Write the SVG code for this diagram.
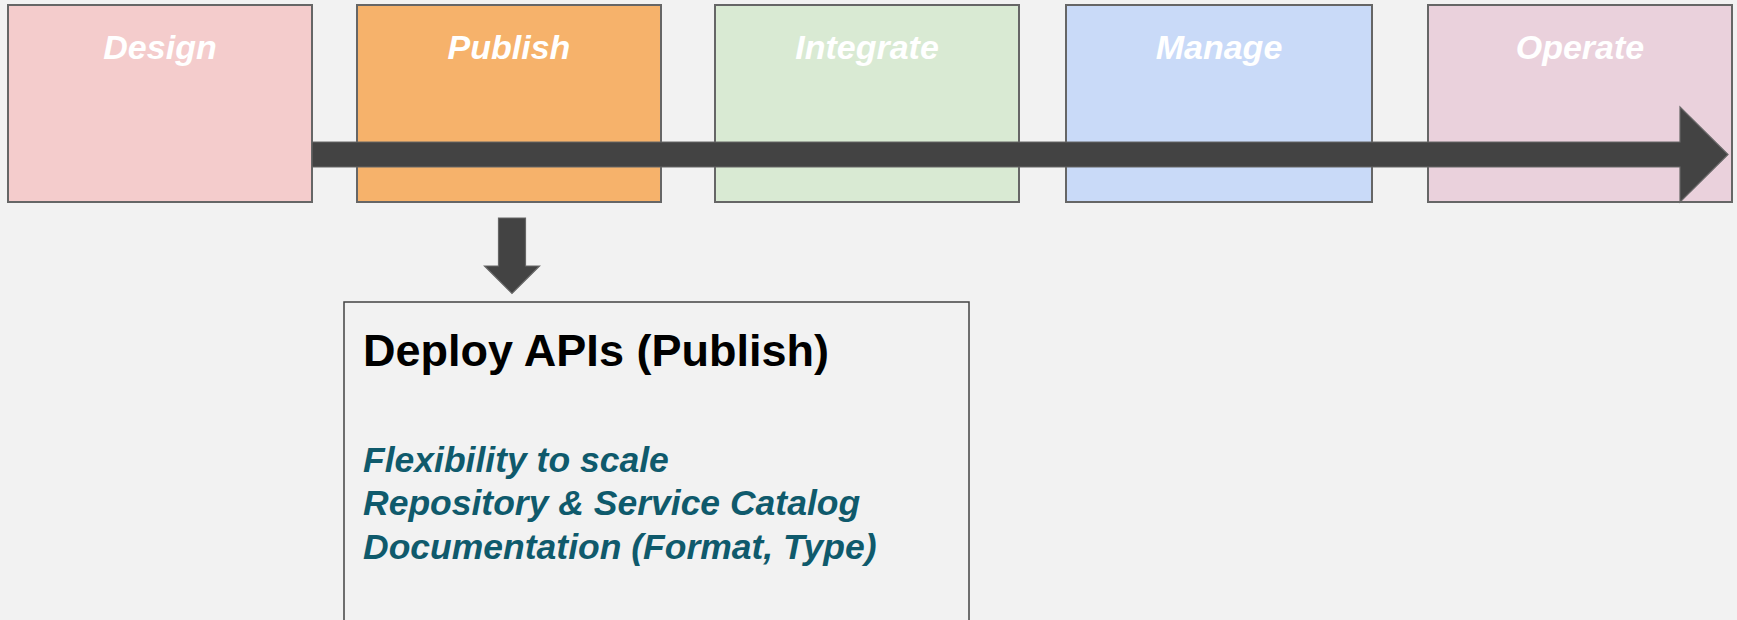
<svg xmlns="http://www.w3.org/2000/svg" width="1737" height="620" viewBox="0 0 1737 620">
<style>
.stage{stroke:#666666;stroke-width:2}
.stitle{font-family:"Liberation Sans",Arial,sans-serif;font-weight:bold;font-style:italic;font-size:34px;fill:#ffffff;text-anchor:middle}
.arrow{fill:#434343;stroke:#666666;stroke-width:1.2}
.htitle{font-family:"Liberation Sans",Arial,sans-serif;font-weight:bold;font-size:45px;fill:#000000}
.item{font-family:"Liberation Sans",Arial,sans-serif;font-weight:bold;font-style:italic;font-size:35.5px;fill:#0f5a6c}
</style>
<rect x="0" y="0" width="1737" height="620" fill="#f2f2f2"/>
<g id="design">
<rect class="stage" x="8" y="5" width="304" height="197" fill="#f4cccc"/>
<text class="stitle" x="160" y="59">Design</text>
</g>
<g id="publish">
<rect class="stage" x="357" y="5" width="304" height="197" fill="#f6b26b"/>
<text class="stitle" x="509" y="59">Publish</text>
</g>
<g id="integrate">
<rect class="stage" x="715" y="5" width="304" height="197" fill="#d9ead3"/>
<text class="stitle" x="867" y="59">Integrate</text>
</g>
<g id="manage">
<rect class="stage" x="1066" y="5" width="306" height="197" fill="#c9daf8"/>
<text class="stitle" x="1219" y="59">Manage</text>
</g>
<g id="operate">
<rect class="stage" x="1428" y="5" width="304" height="197" fill="#ead1dc"/>
<text class="stitle" x="1580" y="59">Operate</text>
</g>
<g id="connectors">
<path class="arrow" d="M312,142 L1680,142 L1680,107 L1728,154.5 L1680,202 L1680,167 L312,167 Z"/>
<path class="arrow" d="M498.5,218 L525.5,218 L525.5,266 L539.5,266 L512,293.5 L484.5,266 L498.5,266 Z"/>
</g>
<g id="detail">
<rect x="344" y="302" width="625" height="320" fill="#f2f2f2" stroke="#434343" stroke-width="1.5"/>
<text class="htitle" x="363" y="366">Deploy APIs (Publish)</text>
<text class="item" x="363" y="472">Flexibility to scale</text>
<text class="item" x="363" y="515">Repository &amp; Service Catalog</text>
<text class="item" x="363" y="559">Documentation (Format, Type)</text>
</g>
</svg>
